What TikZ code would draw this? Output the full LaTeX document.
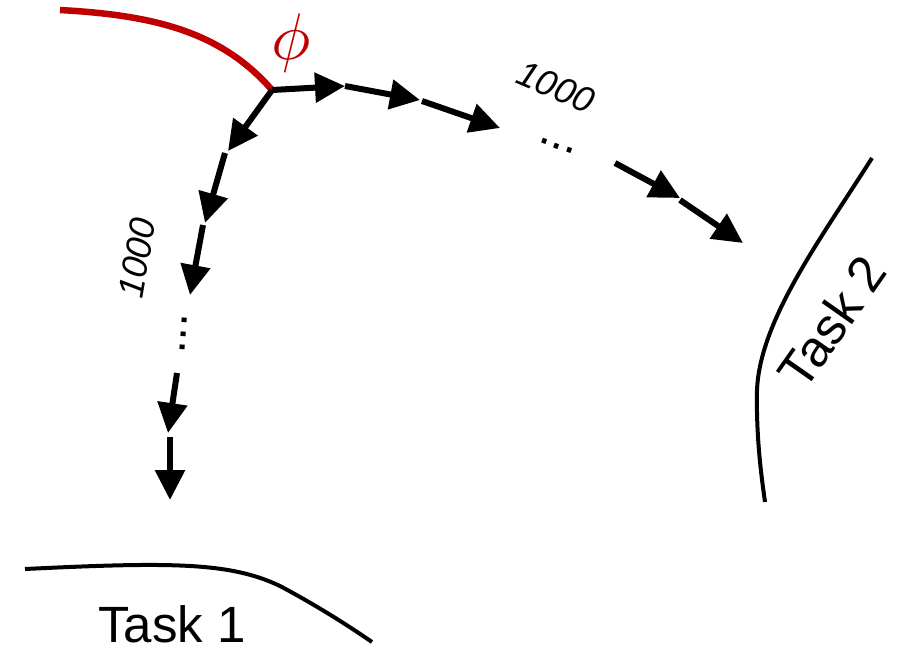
\documentclass[tikz,border=0pt]{standalone}
\usepackage{fontspec}
\setmainfont{Liberation Sans}
\usetikzlibrary{arrows.meta}
\definecolor{phired}{RGB}{192,0,0}
\tikzset{
  steparrow/.style={line width=6pt,-{Triangle[length=30pt,width=29pt]}},
  taskline/.style={line width=4pt},
  tasklabel/.style={font=\fontsize{51}{51}\selectfont,inner sep=0pt},
  countlabel/.style={font=\fontsize{36}{36}\selectfont\itshape,inner sep=0pt},
  dotslabel/.style={font=\fontsize{48}{48}\selectfont,inner sep=0pt}
}
\begin{document}
\begin{tikzpicture}[x=1pt,y=-1pt]
\useasboundingbox (0,0) rectangle (897,649);
% red trajectory
\coordinate (start) at (60,10);
\coordinate (o) at (272,90);
\draw[phired,line width=6.5pt] (start) .. controls (150,15) and (220,30) .. (o);
\node[text=phired,inner sep=0pt,scale=6.6] (phi) at (291,43) {$\phi$};
% right branch
\coordinate (r1) at (345,86);
\coordinate (r2a) at (345,86);
\coordinate (r2) at (420,100);
\coordinate (r3a) at (422,101);
\coordinate (r3) at (500,128);
\coordinate (r4a) at (615,163);
\coordinate (r4) at (680,198);
\coordinate (r5a) at (680,200);
\coordinate (r5) at (743,243);
\draw[steparrow] (o) -- (r1);
\draw[steparrow] (r2a) -- (r2);
\draw[steparrow] (r3a) -- (r3);
\draw[steparrow] (r4a) -- (r4);
\draw[steparrow] (r5a) -- (r5);
\node[countlabel,rotate=-23] (rc) at (556,87) {1000};
\node[dotslabel,rotate=-20] (rd) at (557,146) {...};
% left branch
\coordinate (l1) at (228,151);
\coordinate (l2a) at (225,153);
\coordinate (l2) at (205,223);
\coordinate (l3a) at (203,225);
\coordinate (l3) at (190,295);
\coordinate (l4a) at (177,373);
\coordinate (l4) at (168,433);
\coordinate (l5a) at (170,437);
\coordinate (l5) at (170,500);
\draw[steparrow] (o) -- (l1);
\draw[steparrow] (l2a) -- (l2);
\draw[steparrow] (l3a) -- (l3);
\draw[steparrow] (l4a) -- (l4);
\draw[steparrow] (l5a) -- (l5);
\node[countlabel,rotate=80] (lc) at (137,258) {1000};
\node[dotslabel,rotate=-94] (ld) at (184,334) {...};
% task 1
\draw[taskline] (25,569) .. controls (170,562) and (230,562) .. (280,586) .. controls (310,602) and (340,620) .. (372,642);
\node[tasklabel] (t1) at (172,624) {Task 1};
% task 2
\draw[taskline] (872,158) .. controls (820,240) and (760,320) .. (757,390) .. controls (756,440) and (762,480) .. (765,502);
\node[tasklabel,rotate=55] (t2) at (832,322) {Task 2};
\end{tikzpicture}
\end{document}
